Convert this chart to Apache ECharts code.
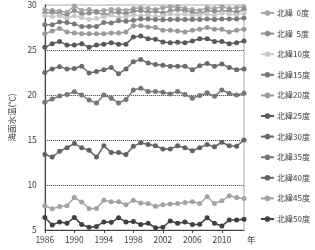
<!DOCTYPE html>
<html>
<head>
<meta charset="utf-8">
<script src="https://cdn.jsdelivr.net/npm/echarts@6/dist/echarts.min.js"></script>
<style>
  html, body { margin: 0; padding: 0; background: #fff; }
  #chart { width: 315px; height: 250px; }
</style>
</head>
<body>
<div id="chart"></div>
<script>
// 年
const years = [];
for (let y = 1986; y <= 2013; y++) years.push(String(y));

const seriesNames = ['北緯  0度', '北緯  5度', '北緯10度', '北緯15度', '北緯20度', '北緯25度',
  '北緯30度', '北緯35度', '北緯40度', '北緯45度', '北緯50度'];

const lat0 = [29.5, 29.4, 29.3, 29.2, 29.9, 29.4, 29.5, 29.3, 29.4, 29.5, 29.5, 29.4, 29.6, 29.7, 29.6, 29.5, 29.7, 29.8, 29.8, 29.6, 29.5, 29.4, 29.7, 29.6, 29.8, 29.6, 29.7, 29.8];
const lat5 = [29.1, 29.2, 29.0, 28.9, 29.4, 29.0, 29.1, 29.2, 28.9, 29.1, 29.2, 29.0, 29.3, 29.4, 29.2, 29.3, 29.1, 29.3, 29.5, 29.4, 29.2, 29.0, 29.4, 29.3, 29.3, 29.4, 29.2, 29.5];
const lat10 = [28.8, 28.7, 28.8, 28.5, 28.8, 28.6, 28.4, 28.5, 28.7, 28.9, 28.6, 28.7, 28.9, 28.8, 28.9, 28.7, 28.8, 29.0, 28.9, 29.0, 28.8, 28.9, 29.0, 28.8, 29.1, 29.0, 28.9, 29.1];
const lat15 = [27.8, 27.8, 28.1, 28.05, 27.9, 27.6, 27.6, 27.6, 28.05, 28.0, 28.25, 28.2, 28.3, 28.45, 28.45, 28.4, 28.35, 28.4, 28.4, 28.4, 28.4, 28.4, 28.45, 28.4, 28.45, 28.45, 28.45, 28.55];
const lat20 = [26.8, 27.1, 27.4, 27.0, 26.9, 26.8, 26.8, 26.8, 26.8, 26.9, 26.9, 27.0, 27.7, 27.7, 27.55, 27.5, 27.2, 27.2, 27.1, 27.0, 27.2, 27.3, 27.5, 27.3, 27.3, 27.0, 27.2, 27.3];
const lat25 = [25.3, 25.7, 25.95, 25.55, 25.55, 25.7, 25.3, 25.55, 25.65, 25.8, 25.65, 25.65, 26.45, 26.55, 26.25, 26.2, 25.9, 25.8, 25.85, 25.8, 26.0, 26.25, 26.25, 25.95, 25.95, 25.7, 25.8, 26.0];
const lat30 = [22.5, 22.9, 23.15, 22.9, 22.95, 23.2, 22.45, 22.6, 22.8, 23.05, 22.35, 22.9, 23.7, 23.95, 23.55, 23.4, 23.3, 23.2, 23.2, 23.2, 22.8, 23.25, 23.5, 23.2, 23.45, 23.05, 22.8, 22.9];
const lat35 = [19.2, 19.55, 19.9, 20.05, 20.35, 20.0, 19.45, 19.1, 20.0, 19.65, 19.1, 19.5, 20.55, 20.75, 20.4, 20.4, 20.3, 20.1, 20.4, 20.05, 19.65, 19.95, 20.25, 19.85, 20.55, 20.2, 20.0, 20.2];
const lat40 = [13.4, 13.1, 13.75, 14.15, 14.6, 14.15, 13.85, 13.1, 14.35, 13.6, 13.6, 13.4, 14.3, 14.7, 14.5, 14.35, 14.0, 14.0, 14.35, 14.15, 13.8, 14.15, 14.5, 14.25, 14.75, 14.35, 14.3, 15.0];
const lat45 = [7.7, 7.35, 7.6, 7.7, 8.6, 8.1, 7.4, 7.4, 8.3, 8.15, 8.15, 7.8, 8.3, 8.0, 7.95, 7.65, 7.8, 7.9, 7.95, 8.05, 8.15, 7.95, 8.7, 7.95, 8.25, 8.8, 8.6, 8.5];
const lat50 = [6.4, 5.55, 5.9, 5.75, 6.4, 5.6, 5.3, 5.4, 5.9, 5.85, 6.35, 5.9, 5.95, 5.6, 5.75, 5.25, 5.3, 6.0, 5.75, 5.9, 5.6, 5.65, 6.35, 5.75, 5.45, 6.1, 6.1, 6.2];

const allData = [lat0, lat5, lat10, lat15, lat20, lat25, lat30, lat35, lat40, lat45, lat50];
const colors = ['#a5a5a5', '#8f8f8f', '#c9c9c9', '#7a7a7a', '#9a9a9a', '#5a5a5a',
  '#6b6b6b', '#767676', '#636363', '#a3a3a3', '#404040'];

const font = '"Noto Sans CJK JP", "Noto Sans", sans-serif';

const chart = echarts.init(document.getElementById('chart'));

chart.setOption({
    animation: false,
    color: colors,
    grid: {
        left: 31, top: 5, width: 213, bottom: 20,
        show: true, borderColor: '#aaa', borderWidth: 1
    },
    legend: {
        orient: 'vertical',
        left: 260, top: 9, padding: 0,
        itemWidth: 13, itemHeight: 7, itemGap: 12.6,
        data: seriesNames,
        textStyle: {fontSize: 8, color: '#404040', fontFamily: font, padding: [0, 0, 0, -2]}
    },
    xAxis: {
        type: 'category',
        data: years,
        boundaryGap: false,
        name: '年',
        nameLocation: 'end',
        nameGap: 3,
        nameTextStyle: {fontSize: 8.5, color: '#404040', fontFamily: font, verticalAlign: 'top', padding: [6, 0, 0, 0]},
        axisLine: {lineStyle: {color: '#404040', width: 1}},
        axisTick: {interval: 3, length: 3, lineStyle: {color: '#404040'}},
        axisLabel: {interval: 3, fontSize: 8.5, color: '#404040', margin: 6, fontFamily: font},
        splitLine: {show: false}
    },
    yAxis: {
        type: 'value',
        min: 5, max: 30, interval: 5,
        name: '海面水温(℃)',
        nameLocation: 'middle',
        nameGap: 19,
        nameRotate: 90,
        nameTextStyle: {fontSize: 8.5, color: '#404040', fontFamily: font},
        axisLine: {show: true, lineStyle: {color: '#404040', width: 1}},
        axisTick: {show: false},
        axisLabel: {fontSize: 8.5, color: '#404040', margin: 8, fontFamily: font},
        splitLine: {
            show: true,
            lineStyle: {color: ['transparent', '#333', '#333', '#333', '#333', 'transparent'], type: [1, 1], width: 1}
        }
    },
    series: seriesNames.map((name, i) => ({
        name: name,
        type: 'line',
        data: allData[i],
        symbol: 'circle',
        symbolSize: 5,
        showAllSymbol: true,
        lineStyle: {width: 1.5},
        itemStyle: {borderWidth: 0}
    }))
});
</script>
</body>
</html>
